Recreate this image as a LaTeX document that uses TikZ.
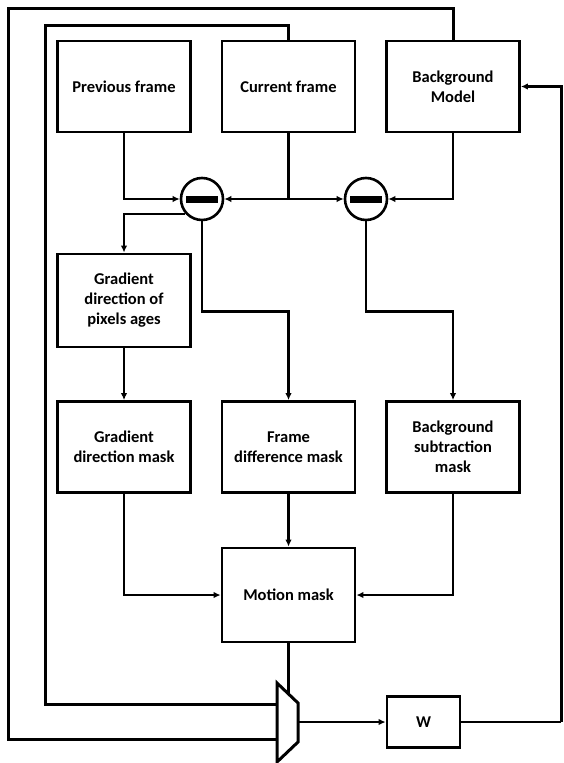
\documentclass[tikz,border=0pt]{standalone}
\usepackage{fontspec}
\setmainfont{Carlito}
\usetikzlibrary{arrows.meta}
\begin{document}
\begin{tikzpicture}[x=1pt,y=-1pt,
  box/.style={draw,line width=2.8pt,minimum width=133pt,minimum height=91pt,align=center,
    font=\bfseries\fontsize{16.5}{20}\selectfont,inner sep=2pt},
  sub/.style={draw,circle,line width=2.6pt,minimum size=42pt,inner sep=0pt},
  conn/.style={line width=2.4pt},
  arr/.style={conn,-{Latex[length=7pt,width=6.5pt]}},
  fb/.style={line width=3pt}]
\useasboundingbox (0,0) rectangle (563,763);
% boxes
\node[box] (prev) at (124,86.5) {Previous frame};
\node[box] (cur) at (288.5,86.5) {Current frame};
\node[box] (bg) at (453,86.5) {Background\\Model};
\node[box,minimum height=93pt] (grad) at (124,300.5) {Gradient\\direction of\\pixels ages};
\node[box] (gdm) at (124,447) {Gradient\\direction mask};
\node[box] (fdm) at (288.5,447) {Frame\\difference mask};
\node[box] (bsm) at (453,447) {Background\\subtraction\\mask};
\node[box,minimum height=94pt] (mm) at (288.5,595) {Motion mask};
\node[box,minimum width=73pt,minimum height=51pt] (W) at (423.5,722) {W};
% subtractors
\node[sub] (s1) at (202,199) {\rule[-3.5pt]{32pt}{7pt}};
\node[sub] (s2) at (366,199) {\rule[-3.5pt]{32pt}{7pt}};
% mux
\coordinate (mA) at (277,683);
\coordinate (mB) at (298,703);
\coordinate (mC) at (298,742);
\coordinate (mD) at (277,762);
\draw[line width=3pt,line join=miter] (mA) -- (mB) -- (mC) -- (mD) -- cycle;
\coordinate (muxtop) at (288.5,694);
\coordinate (muxin1) at (277,704);
\coordinate (muxin2) at (277,739);
\coordinate (muxout) at (298,722);
\coordinate (innerA) at (45,25);
\coordinate (outerA) at (8,8);
\coordinate (fbR) at (561,722);
\coordinate (fbT) at (561,86.5);
% connectors
\draw[arr] (prev.south) |- (s1.west);
\draw[arr] (cur.south) |- (s1.east);
\draw[arr] (cur.south) |- (s2.west);
\draw[arr] (bg.south) |- (s2.east);
\draw[arr] (s1.222) -| (grad.north);
\draw[arr] (s1.south) -- ++(0,90) -| (fdm.north);
\draw[arr] (s2.south) -- ++(0,90) -| (bsm.north);
\draw[arr] (grad.south) -- (gdm.north);
\draw[arr] (gdm.south) |- (mm.west);
\draw[arr] (bsm.south) |- (mm.east);
\draw[arr] (fdm.south) -- (mm.north);
\draw[conn] (mm.south) -- (muxtop);
\draw[arr] (muxout) -- (W.west);
\draw[conn] (W.east) -- (fbR);
\draw[fb,-{Latex[length=7pt,width=6.5pt]}] (fbR) -- (fbT) -- (bg.east);
\draw[fb] (muxin1) -| (innerA) -| (cur.north);
\draw[fb] (muxin2) -| (outerA) -| (bg.north);
\end{tikzpicture}
\end{document}
